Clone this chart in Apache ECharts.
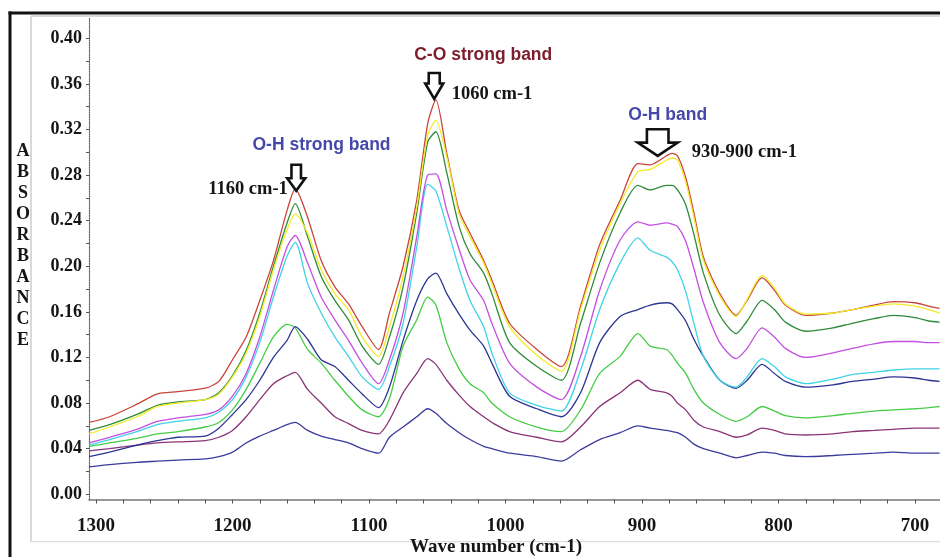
<!DOCTYPE html>
<html>
<head>
<meta charset="utf-8">
<script src="https://cdn.jsdelivr.net/npm/echarts@6/dist/echarts.min.js"></script>
<style>
  html, body { margin: 0; padding: 0; background: #ffffff; }
  #chart { width: 940px; height: 557px; }
</style>
</head>
<body>
<div id="chart"></div>
<script>
// FTIR absorbance spectra, wave number in cm-1 (decreasing)
const waveNumbers = [1305, 1290, 1270, 1255, 1240, 1220, 1210, 1200, 1190, 1180, 1170, 1160, 1154, 1145, 1135, 1125, 1115, 1105, 1093, 1085, 1075, 1065, 1057, 1051, 1043, 1034, 1026, 1016, 1010, 997, 977, 959, 945, 931, 916, 903, 894, 882, 878, 874, 868, 862, 855, 843, 831, 823, 812, 803, 795, 780, 760, 746, 730, 716, 700, 690, 682];

const absRed = [0.063, 0.068, 0.079, 0.088, 0.090, 0.093, 0.099, 0.118, 0.138, 0.170, 0.205, 0.249, 0.268, 0.243, 0.205, 0.182, 0.167, 0.147, 0.127, 0.159, 0.200, 0.258, 0.325, 0.346, 0.299, 0.249, 0.229, 0.205, 0.188, 0.150, 0.127, 0.112, 0.165, 0.219, 0.258, 0.290, 0.289, 0.297, 0.299, 0.297, 0.278, 0.247, 0.208, 0.176, 0.157, 0.170, 0.190, 0.179, 0.166, 0.157, 0.159, 0.162, 0.166, 0.169, 0.168, 0.165, 0.163];
const absYellow = [0.053, 0.059, 0.068, 0.077, 0.080, 0.083, 0.088, 0.103, 0.124, 0.156, 0.197, 0.232, 0.246, 0.229, 0.197, 0.176, 0.162, 0.138, 0.121, 0.147, 0.191, 0.252, 0.315, 0.328, 0.296, 0.246, 0.226, 0.203, 0.185, 0.147, 0.122, 0.108, 0.162, 0.214, 0.255, 0.283, 0.285, 0.293, 0.295, 0.293, 0.274, 0.243, 0.205, 0.174, 0.156, 0.171, 0.192, 0.181, 0.167, 0.158, 0.159, 0.162, 0.165, 0.167, 0.165, 0.162, 0.159];
const absGreen = [0.056, 0.061, 0.070, 0.078, 0.081, 0.083, 0.089, 0.104, 0.126, 0.159, 0.200, 0.238, 0.255, 0.226, 0.191, 0.170, 0.153, 0.130, 0.114, 0.138, 0.182, 0.247, 0.309, 0.318, 0.282, 0.235, 0.211, 0.194, 0.176, 0.133, 0.112, 0.100, 0.150, 0.203, 0.247, 0.271, 0.267, 0.271, 0.271, 0.267, 0.254, 0.228, 0.194, 0.157, 0.141, 0.152, 0.170, 0.162, 0.151, 0.143, 0.146, 0.150, 0.154, 0.157, 0.155, 0.152, 0.151];
const absMagenta = [0.045, 0.050, 0.057, 0.064, 0.067, 0.070, 0.074, 0.086, 0.106, 0.138, 0.179, 0.217, 0.227, 0.203, 0.173, 0.153, 0.135, 0.115, 0.097, 0.118, 0.159, 0.226, 0.280, 0.281, 0.249, 0.215, 0.188, 0.170, 0.150, 0.115, 0.094, 0.083, 0.121, 0.179, 0.223, 0.239, 0.236, 0.238, 0.237, 0.235, 0.222, 0.198, 0.168, 0.133, 0.119, 0.128, 0.146, 0.138, 0.128, 0.120, 0.124, 0.128, 0.132, 0.134, 0.134, 0.133, 0.133];
const absCyan = [0.043, 0.048, 0.055, 0.061, 0.064, 0.067, 0.072, 0.083, 0.103, 0.133, 0.173, 0.209, 0.221, 0.185, 0.159, 0.138, 0.121, 0.103, 0.092, 0.112, 0.150, 0.217, 0.272, 0.266, 0.235, 0.198, 0.170, 0.147, 0.124, 0.089, 0.078, 0.073, 0.109, 0.162, 0.203, 0.225, 0.214, 0.208, 0.204, 0.197, 0.178, 0.150, 0.121, 0.100, 0.094, 0.103, 0.119, 0.112, 0.103, 0.097, 0.101, 0.105, 0.107, 0.109, 0.110, 0.110, 0.110];
const absNavy = [0.033, 0.037, 0.043, 0.047, 0.050, 0.051, 0.058, 0.070, 0.083, 0.100, 0.120, 0.135, 0.147, 0.136, 0.118, 0.112, 0.100, 0.088, 0.076, 0.094, 0.135, 0.170, 0.189, 0.194, 0.176, 0.158, 0.144, 0.130, 0.115, 0.086, 0.075, 0.068, 0.089, 0.133, 0.156, 0.162, 0.166, 0.168, 0.167, 0.162, 0.152, 0.136, 0.121, 0.100, 0.093, 0.100, 0.114, 0.106, 0.099, 0.094, 0.096, 0.099, 0.101, 0.103, 0.102, 0.100, 0.099];
const absLightGreen = [0.042, 0.045, 0.049, 0.053, 0.055, 0.059, 0.063, 0.074, 0.092, 0.115, 0.138, 0.149, 0.146, 0.127, 0.115, 0.100, 0.086, 0.074, 0.068, 0.084, 0.130, 0.153, 0.173, 0.166, 0.133, 0.110, 0.097, 0.089, 0.080, 0.068, 0.059, 0.055, 0.074, 0.106, 0.121, 0.141, 0.130, 0.127, 0.122, 0.115, 0.106, 0.092, 0.080, 0.070, 0.064, 0.068, 0.077, 0.073, 0.069, 0.067, 0.069, 0.071, 0.073, 0.074, 0.075, 0.076, 0.077];
const absPurple = [0.038, 0.040, 0.043, 0.045, 0.046, 0.047, 0.050, 0.056, 0.068, 0.083, 0.097, 0.104, 0.107, 0.092, 0.080, 0.068, 0.062, 0.056, 0.053, 0.065, 0.089, 0.106, 0.119, 0.114, 0.100, 0.087, 0.077, 0.068, 0.063, 0.055, 0.050, 0.046, 0.059, 0.077, 0.089, 0.100, 0.092, 0.089, 0.086, 0.080, 0.074, 0.065, 0.059, 0.055, 0.050, 0.052, 0.058, 0.056, 0.053, 0.052, 0.053, 0.055, 0.056, 0.057, 0.058, 0.058, 0.058];
const absBlue = [0.024, 0.026, 0.028, 0.029, 0.030, 0.031, 0.033, 0.037, 0.045, 0.051, 0.056, 0.061, 0.063, 0.056, 0.051, 0.048, 0.045, 0.040, 0.036, 0.050, 0.059, 0.068, 0.075, 0.071, 0.062, 0.054, 0.048, 0.042, 0.040, 0.036, 0.033, 0.029, 0.039, 0.048, 0.054, 0.060, 0.058, 0.056, 0.055, 0.054, 0.050, 0.044, 0.040, 0.036, 0.032, 0.034, 0.037, 0.036, 0.034, 0.033, 0.034, 0.035, 0.036, 0.037, 0.036, 0.036, 0.036];

// Axis ticks and labels
const yLabelValues = [0.00, 0.04, 0.08, 0.12, 0.16, 0.20, 0.24, 0.28, 0.32, 0.36, 0.40];
const yTickValues = [0.00, 0.02, 0.04, 0.06, 0.08, 0.10, 0.12, 0.14, 0.16, 0.18, 0.20, 0.22, 0.24, 0.26, 0.28, 0.30, 0.32, 0.34, 0.36, 0.38, 0.40];
const xLabelValues = [1300, 1200, 1100, 1000, 900, 800, 700];
const xTickValues = [1300, 1280, 1260, 1240, 1220, 1200, 1180, 1160, 1140, 1120, 1100, 1080, 1060, 1040, 1020, 1000, 980, 960, 940, 920, 900, 880, 860, 840, 820, 800, 780, 760, 740, 720, 700];

const spectra = [
  { name: 'S9', values: absBlue, color: '#3b3b9e' },
  { name: 'S8', values: absPurple, color: '#8a3478' },
  { name: 'S7', values: absLightGreen, color: '#45cc45' },
  { name: 'S6', values: absNavy, color: '#2c3592' },
  { name: 'S5', values: absCyan, color: '#3fd3e6' },
  { name: 'S4', values: absMagenta, color: '#c44fe0' },
  { name: 'S3', values: absGreen, color: '#2f8b39' },
  { name: 'S1', values: absRed, color: '#c8453c' },
  { name: 'S2', values: absYellow, color: '#f2ea2a' }
];

const chart = echarts.init(document.getElementById('chart'), null, { renderer: 'canvas' });

const serifBold = { fontFamily: 'Liberation Serif', fontWeight: 'bold', color: '#151515' };

chart.setOption({
  animation: false,
  backgroundColor: '#ffffff',
  grid: { left: 89, right: 0, top: 18, bottom: 57.5 },
  xAxis: {
    type: 'value',
    inverse: true,
    min: 681.7,
    max: 1305.1,
    axisLine: { show: true, onZero: false, lineStyle: { color: '#777777', width: 1.6 } },
    axisTick: { show: true, customValues: xTickValues, length: 4, lineStyle: { color: '#555555', width: 1 } },
    axisLabel: { customValues: xLabelValues, margin: 17, fontSize: 19, formatter: v => String(v), ...serifBold },
    splitLine: { show: false }
  },
  yAxis: {
    type: 'value',
    min: -0.0046,
    max: 0.4178,
    axisLine: { show: true, onZero: false, lineStyle: { color: '#666666', type: 'dotted', width: 1.2 } },
    axisTick: { show: true, customValues: yTickValues, length: 3, lineStyle: { color: '#555555', width: 1 } },
    axisLabel: { customValues: yLabelValues, margin: 7, fontSize: 18, formatter: v => v.toFixed(2), ...serifBold },
    splitLine: { show: false }
  },
  series: spectra.map(s => ({
    name: s.name,
    type: 'line',
    data: waveNumbers.map((w, i) => [w, s.values[i]]),
    showSymbol: false,
    smooth: 0.25,
    lineStyle: { color: s.color, width: 1.3 },
    itemStyle: { color: s.color }
  }))
});

// Frame, axis titles and band annotations
const elements = [];

// outer black frame (top and left) and inner gray frame
elements.push({ type: 'line', shape: { x1: 8.5, y1: 13, x2: 940, y2: 13 }, style: { stroke: '#111111', lineWidth: 3 } });
elements.push({ type: 'line', shape: { x1: 10, y1: 11.5, x2: 10, y2: 557 }, style: { stroke: '#111111', lineWidth: 3 } });
elements.push({ type: 'line', shape: { x1: 31, y1: 16, x2: 940, y2: 16 }, style: { stroke: '#cccccc', lineWidth: 1.5 } });
elements.push({ type: 'line', shape: { x1: 31, y1: 16, x2: 31, y2: 541.7 }, style: { stroke: '#cccccc', lineWidth: 1.5 } });
elements.push({ type: 'line', shape: { x1: 31, y1: 541.7, x2: 940, y2: 541.7 }, style: { stroke: '#dddddd', lineWidth: 1.2 } });

// vertical axis title, one letter per line
'ABSORBANCE'.split('').forEach((ch, i) => {
  elements.push({
    type: 'text',
    style: {
      text: ch, x: 23, y: 151.7 + i * 21,
      textAlign: 'center', textVerticalAlign: 'middle',
      font: 'bold 18px "Liberation Serif"', fill: '#151515'
    }
  });
});

// horizontal axis title
elements.push({
  type: 'text',
  style: {
    text: 'Wave number (cm-1)', x: 496, y: 547,
    textAlign: 'center', textVerticalAlign: 'middle',
    font: 'bold 19px "Liberation Serif"', fill: '#151515'
  }
});

// band annotations: arrow tip sits on the band maximum
const bands = [
  { tip: [1153.3, 0.2663], H: 26, headH: 12.5, headW: 18, stemW: 9.5,
    title: 'O-H strong band', titleColor: '#4548a8', titleDx: 25.3, titleDy: -45.3,
    note: '1160 cm-1', noteAlign: 'right', noteDx: -8.4, noteDy: -1.8 },
  { tip: [1052.2, 0.3468], H: 26, headH: 15.5, headW: 18, stemW: 11,
    title: 'C-O strong band', titleColor: '#7d1d2c', titleDx: 49, titleDy: -43.5,
    note: '1060 cm-1', noteAlign: 'left', noteDx: 17.4, noteDy: -4.5 },
  { tip: [888.5, 0.2968], H: 26.7, headH: 13.3, headW: 40, stemW: 21.6,
    title: 'O-H band', titleColor: '#4548a8', titleDx: 10, titleDy: -41,
    note: '930-900 cm-1', noteAlign: 'left', noteDx: 34, noteDy: -4 }
];

bands.forEach(b => {
  const p = chart.convertToPixel({ xAxisIndex: 0, yAxisIndex: 0 }, b.tip);
  const tx = p[0], ty = p[1];
  elements.push({
    type: 'polygon',
    shape: {
      points: [
        [tx - b.stemW / 2, ty - b.H], [tx + b.stemW / 2, ty - b.H],
        [tx + b.stemW / 2, ty - b.headH], [tx + b.headW / 2, ty - b.headH],
        [tx, ty],
        [tx - b.headW / 2, ty - b.headH], [tx - b.stemW / 2, ty - b.headH]
      ]
    },
    style: { fill: '#ffffff', stroke: '#111111', lineWidth: 2.6, lineJoin: 'miter' },
    z: 10
  });
  elements.push({
    type: 'text',
    style: {
      text: b.title, x: tx + b.titleDx, y: ty + b.titleDy,
      textAlign: 'center', textVerticalAlign: 'middle',
      font: 'bold 17.5px "Liberation Sans"', fill: b.titleColor
    },
    z: 10
  });
  elements.push({
    type: 'text',
    style: {
      text: b.note, x: tx + b.noteDx, y: ty + b.noteDy,
      textAlign: b.noteAlign, textVerticalAlign: 'middle',
      font: 'bold 18.5px "Liberation Serif"', fill: '#151515'
    },
    z: 10
  });
});

chart.setOption({ graphic: { elements: elements } });
</script>
</body>
</html>
